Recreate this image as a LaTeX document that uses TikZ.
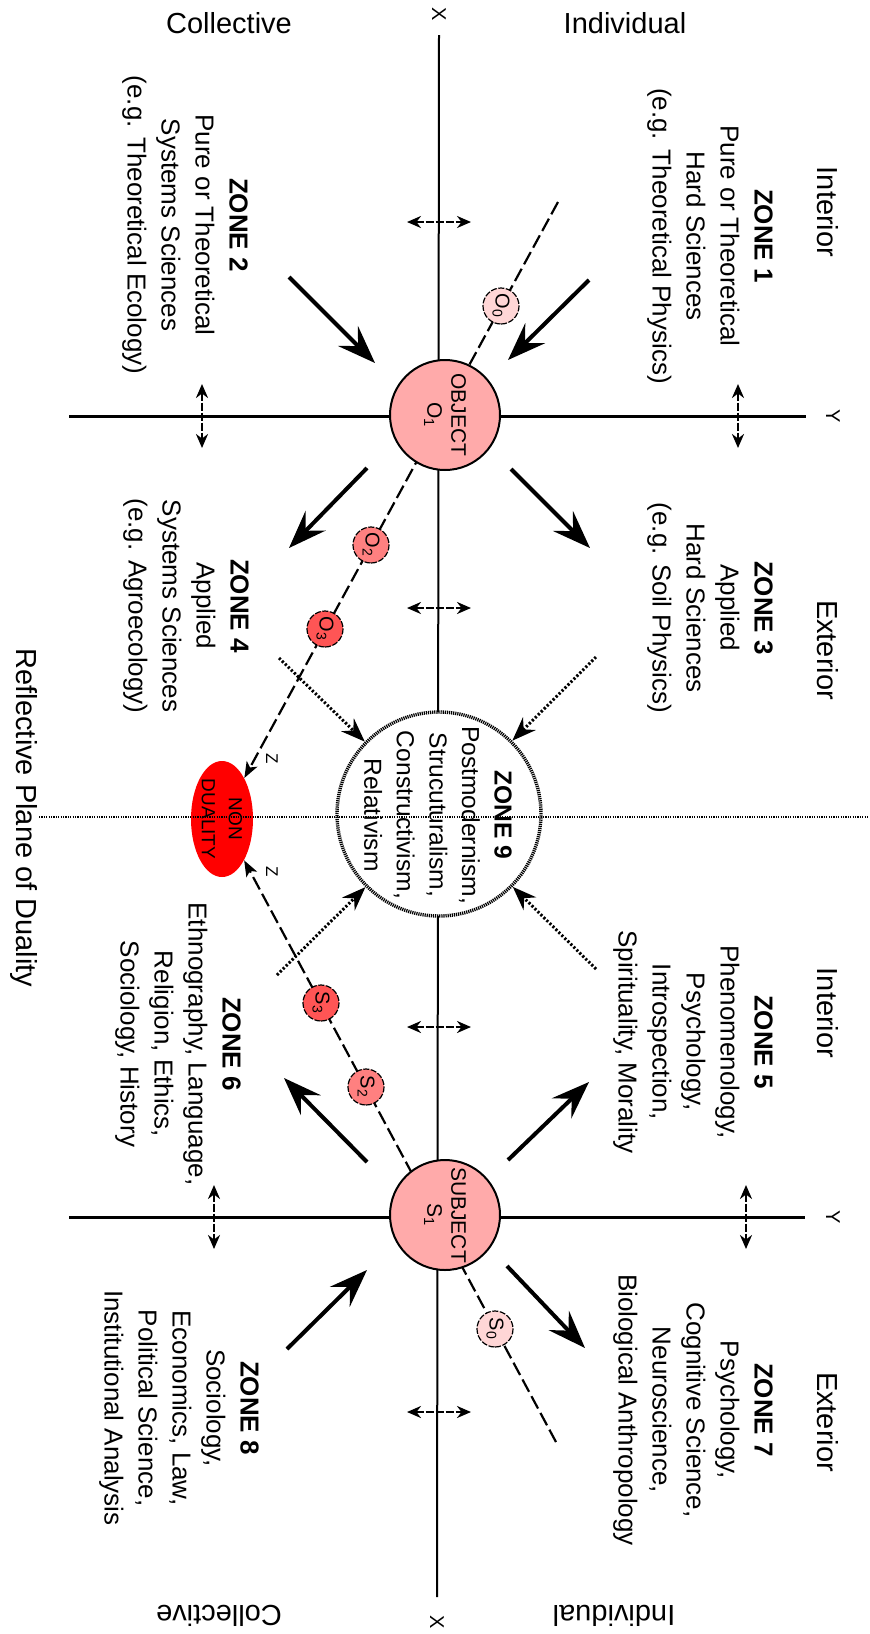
\documentclass[tikz,border=0pt]{standalone}
\usepackage{fontspec}
\setmainfont{Liberation Sans}
\usetikzlibrary{arrows.meta,shapes.geometric}
\definecolor{objpink}{HTML}{FFAAAA}
\definecolor{midpink}{HTML}{FF8080}
\definecolor{deeppink}{HTML}{FF5555}
\definecolor{palepink}{HTML}{FFD6D6}
\definecolor{nonred}{HTML}{FF0000}

\tikzset{
  vtext/.style={rotate=-90, align=center, inner sep=0pt},
  hdr/.style={vtext, font=\fontsize{14.5}{17}\selectfont},
  zonetext/.style={vtext, font=\fontsize{13}{17}\selectfont},
  bigarrow/.style={line width=2pt, -{Stealth[length=19pt,width=14pt,inset=7pt]}},
  dotarrow/.style={line width=1.5pt, dash pattern=on 1.1pt off 1pt, -{Stealth[length=12pt,width=9pt,inset=4pt]}},
  zline/.style={line width=1.1pt, dash pattern=on 7pt off 2.5pt, -{Stealth[length=8pt,width=6pt,inset=2pt]}},
  shiftarrow/.style={line width=1.4pt, dash pattern=on 4pt off 1pt, {Stealth[length=7pt,width=6pt]}-{Stealth[length=7pt,width=6pt]}},
  pole/.style={circle, draw, line width=1pt, fill=objpink, minimum size=55pt, inner sep=0pt, align=center, rotate=-90, font=\fontsize{10.5}{12}\selectfont},
  stage/.style={circle, draw, line width=0.6pt, dash pattern=on 3pt off 0.8pt, minimum size=18pt, inner sep=0pt, rotate=-90, font=\fontsize{10}{10}\selectfont},
}

\begin{document}
\begin{tikzpicture}[x=0.5pt,y=-0.5pt]
  \useasboundingbox (0,0) rectangle (869,1634);
  % axes X and Y
  \coordinate (xtop) at (439,35);
  \coordinate (xbot) at (437,1597);
  \coordinate (yoneL) at (69,416);
  \coordinate (yoneR) at (806,416);
  \coordinate (ytwoL) at (69,1217);
  \coordinate (ytwoR) at (805,1217);
  \draw[line width=1pt] (xtop) -- (xbot);
  \draw[line width=1.5pt] (yoneL) -- (yoneR);
  \draw[line width=1.5pt] (ytwoL) -- (ytwoR);
  \node[vtext, font=\fontsize{10}{10}\selectfont] (xlabtop) at (439,14) {X};
  \node[vtext, font=\fontsize{10}{10}\selectfont] (xlabbot) at (437,1622) {X};
  \node[vtext, font=\fontsize{10}{10}\selectfont] (ylabone) at (833,416) {Y};
  \node[vtext, font=\fontsize{10}{10}\selectfont] (ylabtwo) at (833,1217) {Y};
  % small shift arrows on the axes
  \foreach \yy in {222,608,1027,1412}
    \draw[shiftarrow] (407,\yy) -- (471,\yy);
  \foreach \xx/\yy in {202/416, 738/416, 214/1217, 746/1217}
    \draw[shiftarrow] (\xx,\yy-32) -- (\xx,\yy+32);

  % non duality and the two dashed paths
  \node[ellipse, fill=nonred, minimum width=31pt, minimum height=58pt, inner sep=0pt] (nondual) at (222,819) {};
  \node[vtext, font=\fontsize{9.5}{13.5}\selectfont] (nondualtext) at (222,819) {NON\\DUALITY};
  \coordinate (otop) at (558,202);
  \coordinate (sbot) at (556,1442);
  \draw[zline] (otop) -- (nondual);
  \draw[zline] (sbot) -- (nondual);
  \node[vtext, font=\fontsize{8.5}{8.5}\selectfont] (zone) at (272,759) {Z};
  \node[vtext, font=\fontsize{8.5}{8.5}\selectfont] (ztwo) at (272,872) {Z};

  % object and subject
  \node[pole] (obj) at (445,415) {OBJECT\\O\textsubscript{1}};
  \node[pole] (subj) at (445,1215) {SUBJECT\\S\textsubscript{1}};
  \node[stage, fill=palepink] (ozero) at (501,306) {O\textsubscript{0}};
  \node[stage, fill=midpink] (otwo) at (371,545) {O\textsubscript{2}};
  \node[stage, fill=deeppink] (othree) at (325,629) {O\textsubscript{3}};
  \node[stage, fill=palepink] (szero) at (495,1329) {S\textsubscript{0}};
  \node[stage, fill=midpink] (stwo) at (366,1087) {S\textsubscript{2}};
  \node[stage, fill=deeppink] (sthree) at (321,1003) {S\textsubscript{3}};

  % zone 9
  \node[circle, fill=white, draw, line width=1.7pt, dash pattern=on 0.6pt off 0.45pt, minimum size=102pt] (zninecirc) at (439,814) {};
  \node[vtext, font=\fontsize{12.3}{16.3}\selectfont] (zninetext) at (438,815)
    {\textbf{ZONE 9}\\Postmodernism,\\Strucuturalism,\\Constructivism,\\Relativism};
  \coordinate (dthree) at (596,657);
  \coordinate (dfour) at (279,658);
  \coordinate (dfive) at (596,969);
  \coordinate (dsix) at (277,975);
  \draw[dotarrow] (dthree) -- (zninecirc);
  \draw[dotarrow] (dfour) -- (zninecirc);
  \draw[dotarrow] (dfive) -- (zninecirc);
  \draw[dotarrow] (dsix) -- (zninecirc);

  % zone arrows
  \foreach \sx/\sy/\ex/\ey in {589/280/508/360, 289/277/375/363, 511/469/590/548, 367/468/289/548,
                               508/1160/589/1082, 367/1162/284/1078, 507/1266/585/1348, 287/1349/367/1270}
    \draw[bigarrow] (\sx,\sy) -- (\ex,\ey);

  % reflective plane
  \coordinate (planeL) at (39,817);
  \coordinate (planeR) at (869,817);
  \draw[line width=0.7pt, dash pattern=on 0.6pt off 0.6pt] (planeL) -- (planeR);
  \node[hdr] (plane) at (24,818) {Reflective Plane of Duality};

  % headings
  \node[font=\fontsize{14.5}{17}\selectfont] (colltop) at (229,23) {Collective};
  \node[font=\fontsize{14.5}{17}\selectfont] (indtop) at (625,23) {Individual};
  \node[rotate=180, font=\fontsize{14.5}{17}\selectfont] (collbot) at (219,1616) {Collective};
  \node[rotate=180, font=\fontsize{14.5}{17}\selectfont] (indbot) at (614,1616) {Individual};
  \node[hdr] (intone) at (828,212) {Interior};
  \node[hdr] (extone) at (828,650) {Exterior};
  \node[hdr] (inttwo) at (828,1013) {Interior};
  \node[hdr] (exttwo) at (828,1422) {Exterior};

  % zone texts
  \node[zonetext] (zonea) at (710,236) {\textbf{ZONE 1}\\Pure or Theoretical\\Hard Sciences\\(e.g. Theoretical Physics)};
  \node[zonetext] (zoneb) at (185,225) {\textbf{ZONE 2}\\Pure or Theoretical\\Systems Sciences\\(e.g. Theoretical Ecology)};
  \node[zonetext] (zonec) at (710,608) {\textbf{ZONE 3}\\Applied\\Hard Sciences\\(e.g. Soil Physics)};
  \node[zonetext] (zoned) at (186,606) {\textbf{ZONE 4}\\Applied\\Systems Sciences\\(e.g. Agroecology)};
  \node[zonetext] (zonee) at (693,1042) {\textbf{ZONE 5}\\Phenomenology,\\Psychology,\\Introspection,\\Spirituality, Morality};
  \node[zonetext] (zonef) at (178,1044) {\textbf{ZONE 6}\\Ethnography, Language,\\Religion, Ethics,\\Sociology, History};
  \node[zonetext] (zoneg) at (693,1410) {\textbf{ZONE 7}\\Psychology,\\Cognitive Science,\\Neuroscience,\\Biological Anthropology};
  \node[zonetext] (zoneh) at (179,1408) {\textbf{ZONE 8}\\Sociology,\\Economics, Law,\\Political Science,\\Institutional Analysis};
\end{tikzpicture}
\end{document}
